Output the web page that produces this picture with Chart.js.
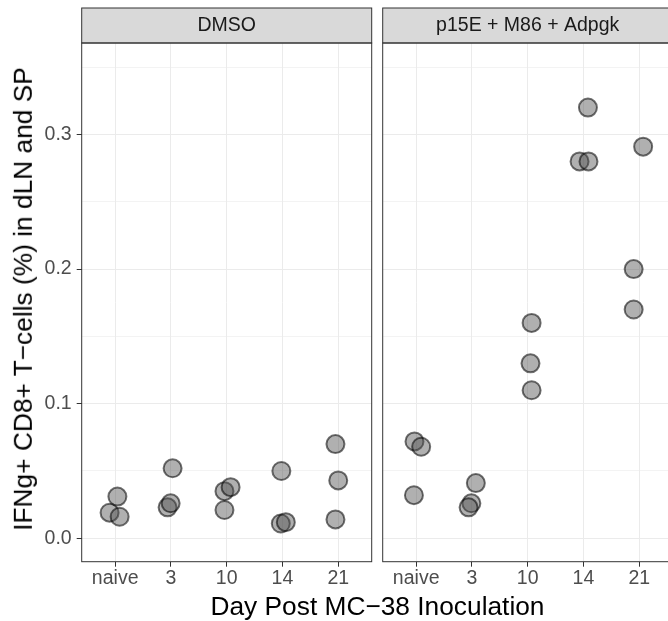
<!DOCTYPE html>
<html>
<head>
<meta charset="utf-8">
<script src="https://cdn.jsdelivr.net/npm/chart.js@4.4.1/dist/chart.umd.min.js"></script>
<style>
  body { margin: 0; background: #fff; overflow: hidden; }
  #wrap { position: relative; width: 668px; height: 621px; overflow: hidden; font-family: "Liberation Sans", Arial, sans-serif; }
  canvas { position: absolute; top: 0; }
  .ttl { position: absolute; font-size: 26.3px; line-height: 26.3px; color: #000; white-space: nowrap; }
</style>
</head>
<body>
<div id="wrap">
  <canvas id="left" width="373" height="621" style="left:0;width:373px;height:621px"></canvas>
  <canvas id="right" width="301" height="621" style="left:373px;width:301px;height:621px"></canvas>
  <div class="ttl" id="xtitle" style="left:377.5px;top:592.7px;transform:translateX(-50%)">Day Post MC−38 Inoculation</div>
  <div class="ttl" id="ytitle" style="left:22.5px;top:298.5px;transform:translate(-50%,-50%) rotate(-90deg)">IFNg+ CD8+ T−cells (%) in dLN and SP</div>
</div>
<script>
// categories on the x axis and the y tick values
let categories = ["naive", "3", "10", "14", "21"];
let yTicks = [0, 0.05, 0.1, 0.15, 0.2, 0.25, 0.3, 0.35];
let panels = ["DMSO", "p15E + M86 + Adpgk"];

// DMSO panel: day index, jitter, value
let dmsoDay = [0, 0, 0, 1, 1, 1, 2, 2, 2, 3, 3, 3, 4, 4, 4];
let dmsoJitter = [-0.1, 0.04, 0.08, 0.03, -0.06, -0.005, -0.04, 0.07, -0.04, -0.02, -0.03, 0.06, -0.05, 0, -0.05];
let dmsoValues = [0.019, 0.031, 0.016, 0.052, 0.023, 0.026, 0.035, 0.038, 0.021, 0.050, 0.011, 0.012, 0.070, 0.043, 0.014];

// p15E + M86 + Adpgk panel
let pepDay = [0, 0, 0, 1, 1, 1, 2, 2, 2, 3, 3, 3, 4, 4, 4];
let pepJitter = [-0.03, 0.09, -0.04, 0.07, -0.01, -0.06, 0.07, 0.05, 0.07, 0.08, -0.07, 0.09, 0.07, -0.1, -0.1];
let pepValues = [0.072, 0.068, 0.032, 0.041, 0.026, 0.023, 0.160, 0.130, 0.110, 0.320, 0.280, 0.280, 0.291, 0.200, 0.170];

const FONT = "Liberation Sans";
const isMajor = (v) => Math.round(v * 100) % 10 === 0;

function points(days, jit, vals) {
  return vals.map((v, i) => ({ x: days[i] + jit[i], y: v }));
}

function panelPlugin(label) {
  return {
    id: "panel",
    afterDraw(chart) {
      const ctx = chart.ctx;
      const a = chart.chartArea;
      ctx.save();
      // strip
      ctx.fillStyle = "#d9d9d9";
      ctx.fillRect(a.left, 8, a.right - a.left, a.top - 8);
      ctx.strokeStyle = "#333333";
      ctx.lineWidth = 1;
      ctx.strokeRect(a.left, 8, a.right - a.left, a.top - 8);
      ctx.fillStyle = "#1a1a1a";
      ctx.font = "19.5px '" + FONT + "'";
      ctx.textAlign = "center";
      ctx.textBaseline = "middle";
      ctx.fillText(label, (a.left + a.right) / 2, 26);
      // panel border
      ctx.strokeRect(a.left, a.top, a.right - a.left, a.bottom - a.top);
      ctx.restore();
    },
  };
}

function makeChart(id, label, data, showY, padding) {
  return new Chart(document.getElementById(id), {
    type: "scatter",
    data: {
      datasets: [
        {
          data: data,
          pointRadius: 9,
          pointHoverRadius: 9,
          borderWidth: 2,
          backgroundColor: "rgba(80,80,80,0.45)",
          borderColor: "rgba(0,0,0,0.55)",
        },
      ],
    },
    options: {
      responsive: false,
      animation: false,
      devicePixelRatio: 1,
      layout: { padding: padding, autoPadding: false },
      plugins: { legend: { display: false }, tooltip: { enabled: false } },
      scales: {
        x: {
          type: "linear",
          min: -0.6,
          max: 4.6,
          afterBuildTicks: (s) => {
            s.ticks = categories.map((c, i) => ({ value: i }));
          },
          afterFit: (s) => {
            s.height = 59.3;
            s.paddingLeft = 0;
            s.paddingRight = 0;
          },
          ticks: {
            autoSkip: false,
            maxRotation: 0,
            padding: 0,
            color: "#4d4d4d",
            font: { family: FONT, size: 19.5 },
            callback: (v, i) => categories[i],
          },
          grid: { color: "#ebebeb", lineWidth: 1, tickColor: "#333333", tickLength: 5 },
          border: { display: false },
        },
        y: {
          min: -0.0174,
          max: 0.368,
          afterBuildTicks: (s) => {
            s.ticks = yTicks.map((v) => ({ value: v }));
          },
          afterFit: (s) => {
            s.width = showY ? 81.7 : 0;
            s.paddingTop = 0;
            s.paddingBottom = 0;
          },
          ticks: {
            display: showY,
            autoSkip: false,
            padding: 5,
            color: "#4d4d4d",
            font: { family: FONT, size: 19.5 },
            callback: (v) => (isMajor(v) ? v.toFixed(1) : ""),
          },
          grid: {
            drawTicks: showY,
            tickLength: 5,
            color: "#ebebeb",
            lineWidth: (c) => (isMajor(c.tick.value) ? 1 : 0.6),
            tickColor: (c) => (isMajor(c.tick.value) ? "#333333" : "rgba(0,0,0,0)"),
          },
          border: { display: false },
        },
      },
    },
    plugins: [panelPlugin(label)],
  });
}

makeChart("left", panels[0], points(dmsoDay, dmsoJitter, dmsoValues), true, { top: 43, right: 1.3, left: 0, bottom: 0 });
makeChart("right", panels[1], points(pepDay, pepJitter, pepValues), false, { top: 43, right: 1.3, left: 9.7, bottom: 0 });
</script>
</body>
</html>
